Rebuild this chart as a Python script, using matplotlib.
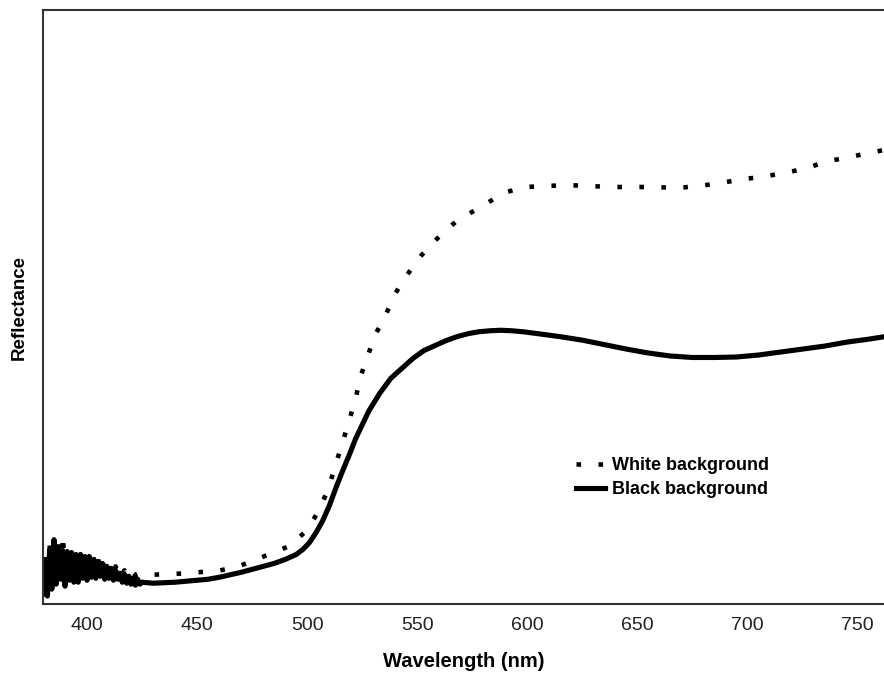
import matplotlib.pyplot as plt

# Black background - noisy start (1 nm steps)
black_noise_wl = list(range(380, 425))
black_noise = [1.0, 4.5, 0.8, 5.5, 1.5, 6.5, 2.0, 5.8, 2.5, 5.4,
               1.8, 5.3, 2.4, 5.2, 2.2, 5.0, 2.2, 5.0, 2.6, 4.8,
               2.4, 4.8, 2.7, 4.5, 2.6, 4.3, 2.8, 4.1, 2.5, 3.8,
               2.6, 3.6, 2.4, 3.4, 2.5, 3.1, 2.2, 3.0, 2.1, 2.8,
               2.0, 2.6, 1.9, 2.5, 2.0]

# Black background - smooth part
black_wl = [425, 430, 435, 440, 445, 450, 455, 460, 465, 470, 475, 480, 485, 490, 495,
            498, 501, 504, 507, 510, 513, 516, 519, 522, 525, 528, 533, 538, 543, 548,
            553, 558, 563, 568, 573, 578, 583, 588, 593, 598, 605, 615, 625, 635, 645,
            655, 665, 675, 685, 695, 705, 715, 725, 735, 745, 755, 765]
black_val = [2.2, 2.1, 2.15, 2.2, 2.3, 2.4, 2.5, 2.7, 2.95, 3.2, 3.5, 3.8, 4.1, 4.5, 5.0,
             5.5, 6.2, 7.2, 8.4, 9.9, 11.7, 13.4, 15.0, 16.7, 18.1, 19.5, 21.3, 22.8, 23.8, 24.8,
             25.6, 26.1, 26.6, 27.0, 27.3, 27.5, 27.6, 27.65, 27.6, 27.5, 27.3, 27.0, 26.65, 26.2, 25.75,
             25.35, 25.05, 24.9, 24.9, 24.95, 25.15, 25.45, 25.75, 26.05, 26.45, 26.75, 27.1]

# White background - noisy start
white_noise_wl = list(range(380, 425))
white_noise = [2.0, 5.0, 1.5, 6.0, 2.5, 7.0, 3.0, 6.2, 3.5, 7.0,
               3.0, 5.6, 3.3, 5.5, 3.2, 5.3, 3.4, 5.0, 3.6, 5.2,
               3.5, 4.9, 3.7, 4.7, 3.6, 4.6, 3.5, 4.4, 3.4, 4.2,
               3.3, 4.0, 3.2, 3.8, 3.1, 3.6, 3.0, 3.4, 2.9, 3.3,
               2.9, 3.1, 2.9, 3.0, 2.9]

# White background - smooth part
white_wl = [426, 439, 447, 452, 459, 468, 474, 483, 492, 500, 506, 510, 513, 516, 519,
            522, 524, 527.5, 531, 535, 539, 545, 552, 561, 569, 579, 589, 599, 609, 618,
            628, 638, 648, 658, 668, 678, 688, 698, 707, 716, 726, 735, 744, 753, 762]
white_val = [2.93, 3.03, 3.13, 3.23, 3.33, 3.74, 4.24, 5.05, 5.86, 7.47, 9.7, 11.92, 14.14, 16.26, 18.48,
             20.71, 22.83, 25.05, 27.27, 28.79, 31.01, 33.13, 35.25, 37.37, 38.89, 40.1, 41.52, 42.12, 42.22, 42.32,
             42.22, 42.12, 42.12, 42.12, 42.02, 42.22, 42.53, 42.93, 43.13, 43.54, 43.94, 44.65, 45.05, 45.45, 45.86]

xticks = [400, 450, 500, 550, 600, 650, 700, 750]

plt.rcParams['font.family'] = ['Liberation Sans', 'DejaVu Sans']

fig = plt.figure(figsize=(8.84, 6.73), dpi=100)
ax = fig.add_axes([43 / 884, 69 / 673, 841 / 884, 594 / 673])

ax.plot(white_noise_wl + white_wl, white_noise + white_val, color='black', lw=3.3,
        linestyle=(0, (1, 3.8)), dash_capstyle='butt', label='White background')
ax.plot(black_noise_wl + black_wl, black_noise + black_val, color='black', lw=3.7,
        solid_joinstyle='round', label='Black background')

ax.set_xlim(380, 762)
ax.set_ylim(0, 60)
ax.set_xticks(xticks)
ax.set_yticks([])
ax.tick_params(axis='x', length=0, labelsize=14, labelcolor='#222222', pad=9)

for s in ['left', 'bottom', 'top']:
    ax.spines[s].set_color('#333333')
    ax.spines[s].set_linewidth(1.5)
ax.spines['right'].set_visible(False)

ax.set_xlabel('Wavelength (nm)', fontsize=14.5, fontweight='bold', labelpad=13)
ax.set_ylabel('Reflectance', fontsize=13.5, fontweight='bold', labelpad=11)

ax.legend(loc='center left', bbox_to_anchor=(0.614, 0.213), frameon=False,
          handlelength=1.6, handletextpad=0.4, labelspacing=0.4,
          prop={'weight': 'bold', 'size': 13})

fig.savefig('out.png', dpi=100)
